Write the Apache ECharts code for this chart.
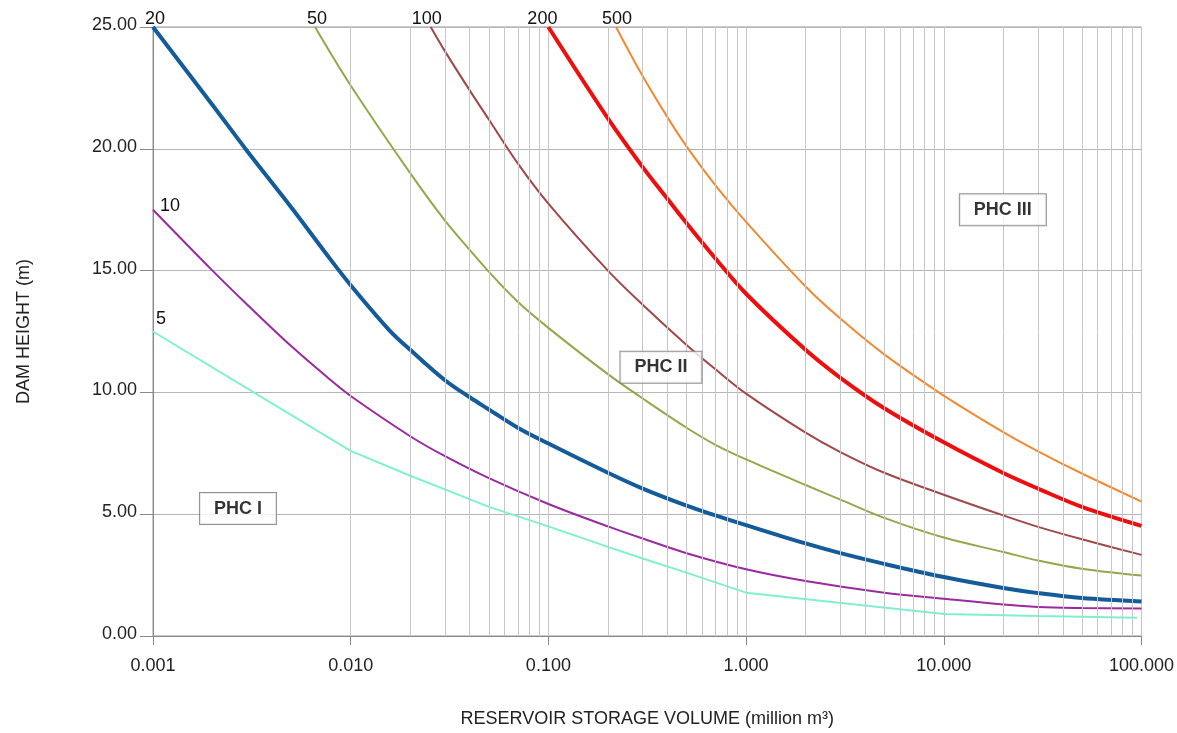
<!DOCTYPE html>
<html>
<head>
<meta charset="utf-8">
<script src="https://cdn.jsdelivr.net/npm/echarts@6/dist/echarts.min.js"></script>
<style>
  html, body { margin: 0; padding: 0; background: #ffffff; }
  #chart { width: 1177px; height: 733px; }
</style>
</head>
<body>
<div id="chart"></div>
<script>
// ---- data ----
const curveNames = ['5', '10', '20', '50', '100', '200', '500'];
const curve5 = [[0.001,12.5],[0.01,7.6],[0.02,6.58],[0.03,6.02],[0.05,5.3],[0.1,4.5],[0.2,3.66],[0.3,3.18],[0.5,2.6],[0.7,2.2],[1,1.78],[10,0.9],[30,0.82],[95,0.75]];
const curve10 = [[0.001,17.5],[0.002,15.0],[0.003,13.6],[0.005,11.9],[0.0078,10.55],[0.01,9.85],[0.02,8.2],[0.03,7.38],[0.05,6.48],[0.1,5.42],[0.2,4.5],[0.3,4.0],[0.5,3.4],[1,2.74],[2,2.26],[5,1.78],[10,1.53],[20,1.29],[30,1.19],[50,1.15],[100,1.13]];
const curve20 = [[0.001,25],[0.002,21.8],[0.003,19.9],[0.005,17.6],[0.0075,15.7],[0.01,14.4],[0.0157,12.55],[0.02,11.75],[0.03,10.5],[0.04,9.8],[0.05,9.3],[0.07,8.55],[0.1,7.9],[0.2,6.7],[0.3,6.05],[0.5,5.35],[0.7,4.95],[1,4.55],[2,3.8],[3,3.4],[5,2.96],[10,2.42],[20,1.97],[30,1.76],[50,1.56],[100,1.42]];
const curve50 = [[0.0066,25],[0.01,22.6],[0.02,19.0],[0.03,17.05],[0.04,15.85],[0.05,14.95],[0.07,13.72],[0.1,12.65],[0.2,10.75],[0.3,9.75],[0.5,8.55],[0.7,7.85],[1,7.25],[2,6.2],[3,5.6],[5,4.85],[10,4.04],[20,3.45],[30,3.1],[50,2.76],[100,2.48]];
const curve100 = [[0.0254,25],[0.03,24.0],[0.04,22.4],[0.05,21.2],[0.07,19.4],[0.1,17.75],[0.2,15.0],[0.3,13.6],[0.5,11.95],[0.7,10.95],[1,9.95],[2,8.35],[3,7.55],[5,6.7],[10,5.8],[20,4.95],[30,4.48],[50,3.97],[100,3.33]];
const curve200 = [[0.1,25],[0.2,21.25],[0.3,19.25],[0.4,17.95],[0.5,16.95],[0.7,15.5],[1,14.05],[2,11.75],[3,10.6],[5,9.35],[10,7.95],[20,6.69],[30,6.05],[50,5.3],[100,4.52]];
const curve500 = [[0.22,25],[0.287,23.26],[0.4,21.3],[0.5,20.1],[0.7,18.5],[1,17.0],[2,14.35],[3,13.03],[5,11.56],[10,9.87],[20,8.37],[30,7.58],[50,6.67],[100,5.52]];
const curves = [curve5, curve10, curve20, curve50, curve100, curve200, curve500];

const classNames = ['PHC I', 'PHC II', 'PHC III'];
const classPositions = [[0.00269, 5.23], [0.371, 11.03], [19.9, 17.5]];

const xTickValues = [0.001, 0.01, 0.1, 1, 10, 100];
const yTickValues = [0, 5, 10, 15, 20, 25];
const minorMultipliers = [2, 3, 4, 5, 6, 7, 8, 9];

// ---- styles ----
const FONT = 'Liberation Sans, Arial, Helvetica, sans-serif';
const curveColors = ['#7ff0cf', '#9a2a9e', '#135b9a', '#93a84a', '#a04848', '#ee0e0e', '#f08a30'];
const curveWidths = [2, 2, 4, 2, 2, 4, 2];
const curveSmooth = [false, 0.35, 0.35, 0.35, 0.35, 0.35, 0.35];
const nameLabelStyle = [
  { position: 'right', distance: 3, offset: [0, -12] },
  { position: 'right', distance: 7, offset: [0, -4] },
  { position: 'top', distance: 1, offset: [2, 2] },
  { position: 'top', distance: 1, offset: [2, 2] },
  { position: 'top', distance: 1, offset: [-4, 2] },
  { position: 'top', distance: 1, offset: [-6, 2] },
  { position: 'top', distance: 1, offset: [1, 2] }
];

// minor vertical grid lines at 2..9 of each decade
const minorGrid = [];
for (let d = 0; d < xTickValues.length - 1; d++) {
  minorMultipliers.forEach(m => minorGrid.push({ xAxis: xTickValues[d] * m }));
}

const series = [];
series.push({
  type: 'line', data: [], silent: true, z: 1,
  markLine: {
    silent: true, symbol: ['none', 'none'], animation: false,
    label: { show: false },
    lineStyle: { color: '#c6c6c6', width: 1, type: 'solid' },
    emphasis: { disabled: true },
    data: minorGrid
  }
});

curves.forEach((c, i) => {
  const lbl = nameLabelStyle[i];
  series.push({
    name: curveNames[i],
    type: 'line',
    data: c,
    smooth: curveSmooth[i],
    showSymbol: false,
    silent: true,
    z: 3,
    lineStyle: { color: curveColors[i], width: curveWidths[i] },
    itemStyle: { color: curveColors[i] },
    animation: false,
    markPoint: {
      silent: true, animation: false,
      symbol: 'circle', symbolSize: 0,
      data: [{
        coord: c[0], name: curveNames[i],
        label: {
          show: true, formatter: curveNames[i],
          position: lbl.position, distance: lbl.distance, offset: lbl.offset,
          color: '#111', fontSize: 18, fontFamily: FONT
        }
      }]
    }
  });
});

series.push({
  type: 'scatter', silent: true, z: 5, animation: false,
  symbolSize: 0,
  data: classPositions.map((p, i) => ({ value: p, name: classNames[i] })),
  label: {
    show: true, position: 'inside',
    formatter: p => p.name,
    fontSize: 18, fontWeight: 'bold', fontFamily: FONT, color: '#000000',
    textBorderWidth: 0,
    backgroundColor: '#ffffff', borderColor: '#777777', borderWidth: 1,
    padding: [7, 14, 6, 14]
  }
});

const chart = echarts.init(document.getElementById('chart'), null, { renderer: 'canvas' });
chart.setOption({
  animation: false,
  backgroundColor: '#ffffff',
  grid: { left: 153, right: 34, top: 27, bottom: 92, show: true, borderColor: '#999999', borderWidth: 1, backgroundColor: 'transparent' },
  xAxis: {
    type: 'log', logBase: 10, min: xTickValues[0], max: xTickValues[xTickValues.length - 1],
    name: 'RESERVOIR STORAGE VOLUME (million m³)',
    nameLocation: 'middle', nameGap: 74,
    nameTextStyle: { fontSize: 18, fontFamily: FONT, color: '#222' },
    axisLine: { show: true, lineStyle: { color: '#888888', width: 1 } },
    axisTick: { show: true, length: 9, lineStyle: { color: '#888888' } },
    axisLabel: { fontSize: 18, fontFamily: FONT, color: '#222', margin: 21, formatter: v => Number(v).toFixed(3) },
    splitLine: { show: true, lineStyle: { color: '#c6c6c6', width: 1 } },
    minorTick: { show: false }, minorSplitLine: { show: false }
  },
  yAxis: {
    type: 'value', min: yTickValues[0], max: yTickValues[yTickValues.length - 1], interval: 5,
    name: 'DAM HEIGHT (m)',
    nameLocation: 'middle', nameGap: 120, nameRotate: 90,
    nameTextStyle: { fontSize: 18, fontFamily: FONT, color: '#222' },
    axisLine: { show: true, lineStyle: { color: '#888888', width: 1 } },
    axisTick: { show: true, length: 13, lineStyle: { color: '#888888' } },
    axisLabel: { fontSize: 18, fontFamily: FONT, color: '#222', margin: 16, verticalAlign: 'bottom', lineHeight: 4, formatter: v => Number(v).toFixed(2) },
    splitLine: { show: true, lineStyle: { color: '#b5b5b5', width: 1 } }
  },
  series: series
});
</script>
</body>
</html>
